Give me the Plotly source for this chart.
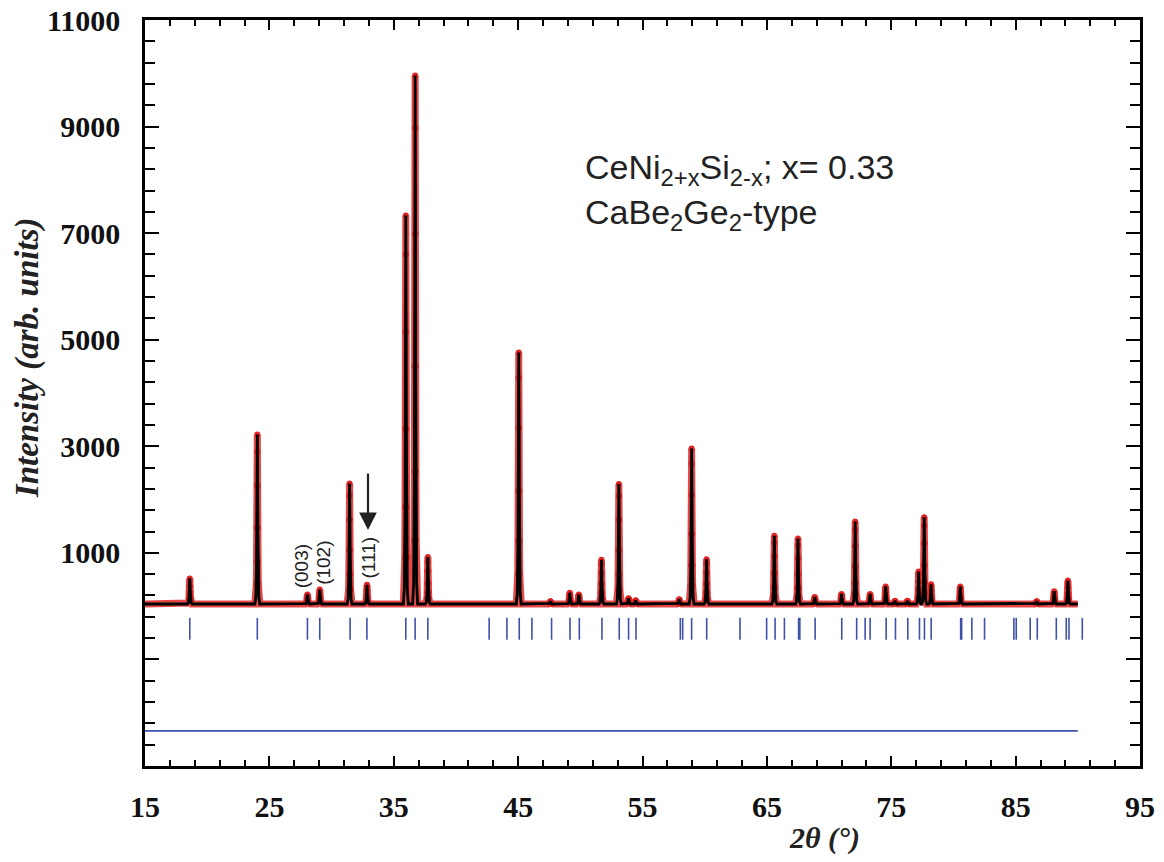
import plotly.graph_objects as go

# ---------------- data ----------------
background = 40
peak_2theta = [18.60, 24.03, 28.06, 29.05, 31.45, 32.85, 35.97, 36.72, 37.74,
               45.05, 47.60, 49.15, 49.88, 51.70, 53.10, 53.88, 54.45,
               57.95, 58.95, 60.15, 65.60, 67.50, 68.85, 71.00, 72.10,
               73.30, 74.55, 75.30, 76.30, 77.20, 77.65, 78.20, 80.55,
               86.70, 88.10, 89.20]
peak_intensity = [520, 3220, 220, 310, 2300, 400, 7330, 9960, 920,
                  4760, 90, 250, 220, 870, 2290, 150, 110,
                  130, 2960, 880, 1320, 1270, 170, 230, 1590,
                  230, 370, 100, 100, 650, 1670, 410, 370,
                  90, 280, 480]
scan_range = [15.0, 90.0]

bragg_2theta = [18.60, 24.03, 28.06, 29.05, 31.49, 32.84, 35.97, 36.72, 37.74,
                42.67, 44.10, 45.09, 46.11, 47.69, 49.17, 49.92, 51.74, 53.13,
                53.88, 54.48, 58.04, 58.23, 58.95, 60.16, 62.84, 64.98, 65.66,
                66.41, 67.55, 67.65, 68.88, 71.02, 72.22, 72.90, 73.30, 74.59,
                75.34, 76.33, 77.27, 77.67, 78.21, 80.58, 80.66, 81.48, 82.50,
                84.86, 85.05, 86.17, 86.74, 88.27, 89.07, 89.29, 90.36]
bragg_top = -220
bragg_bottom = -630

diff_level = -2340

x_ticks = [15, 25, 35, 45, 55, 65, 75, 85, 95]
y_ticks = [-3000, -1000, 1000, 3000, 5000, 7000, 9000, 11000]
y_ticklabels = ["", "", "1000", "3000", "5000", "7000", "9000", "11000"]

hkl_labels = ["(003)", "(102)", "(111)"]
hkl_x = [27.65, 29.34, 32.93]
hkl_y = [754, 819, 913]

# peak profile shape (drawing style of each reflection)
profile_offsets = [-0.2, -0.12, -0.08, -0.06, -0.045, -0.03, -0.015, 0.0,
                   0.015, 0.03, 0.045, 0.06, 0.08, 0.12, 0.2]
profile_fraction = [0, 0.04, 0.12, 0.25, 0.45, 0.7, 0.9, 1.0,
                    0.9, 0.7, 0.45, 0.25, 0.12, 0.04, 0]

# ---------------- build polylines ----------------
xs = [scan_range[0]]
ys = [background]
mx, my = [], []
for p, h in sorted(zip(peak_2theta, peak_intensity)):
    for o, f in zip(profile_offsets, profile_fraction):
        xv = p + o
        yv = background + f * (h - background)
        xs.append(xv)
        ys.append(yv)
        if f > 0.1:
            mx.append(xv)
            my.append(yv)
xs.append(scan_range[1])
ys.append(background)

bx, by = [], []
for b in bragg_2theta:
    bx += [b, b, None]
    by += [bragg_top, bragg_bottom, None]

fig = go.Figure()
# observed (red)
fig.add_trace(go.Scatter(x=xs, y=ys, mode="lines",
                         line=dict(color="rgba(225,40,40,0.85)", width=7),
                         hoverinfo="skip", showlegend=False))
fig.add_trace(go.Scatter(x=mx, y=my, mode="markers",
                         marker=dict(color="rgb(225,35,35)", size=6),
                         hoverinfo="skip", showlegend=False))
# calculated (black)
fig.add_trace(go.Scatter(x=xs, y=ys, mode="lines",
                         line=dict(color="black", width=2.8),
                         hoverinfo="skip", showlegend=False))
# Bragg positions
fig.add_trace(go.Scatter(x=bx, y=by, mode="lines",
                         line=dict(color="#3f51a8", width=1.6),
                         hoverinfo="skip", showlegend=False))
# difference curve
fig.add_trace(go.Scatter(x=scan_range, y=[diff_level, diff_level], mode="lines",
                         line=dict(color="#3f55b0", width=1.6),
                         hoverinfo="skip", showlegend=False))

tickfont = dict(family="Liberation Serif", size=30, color="#111", weight="bold")

fig.update_xaxes(range=[15, 95], tickmode="array", tickvals=x_ticks, automargin=False,
                 ticks="inside", ticklen=10, tickwidth=2.2, tickcolor="black",
                 showline=True, linewidth=2.5, linecolor="black", mirror="allticks",
                 showgrid=False, zeroline=False, tickfont=tickfont,
                 ticklabelstandoff=12, ticklabeloverflow="allow",
                 minor=dict(tickmode="linear", tick0=15, dtick=2, ticks="inside",
                            ticklen=6, tickwidth=1.5, tickcolor="black", showgrid=False))
fig.update_yaxes(range=[-3000, 11000], tickmode="array", tickvals=y_ticks,
                 ticktext=y_ticklabels, automargin=False,
                 ticks="inside", ticklen=14, tickwidth=2.2, tickcolor="black",
                 showline=True, linewidth=2.5, linecolor="black", mirror="allticks",
                 showgrid=False, zeroline=False, tickfont=tickfont,
                 ticklabelstandoff=16, ticklabeloverflow="allow",
                 minor=dict(tickmode="linear", tick0=-3000, dtick=400, ticks="inside",
                            ticklen=10, tickwidth=1.5, tickcolor="black", showgrid=False))

annotations = [
    dict(text="Intensity (arb. units)", xref="paper", yref="paper",
         x=-0.1186, y=0.548, xanchor="center", yanchor="middle",
         textangle=-90, showarrow=False,
         font=dict(family="Liberation Serif", size=33, color="#222", weight="bold",
                   style="italic")),
    dict(text="2θ (°)", xref="paper", yref="paper", x=0.683, y=-0.097,
         xanchor="center", yanchor="middle", showarrow=False,
         font=dict(family="Liberation Serif", size=30, color="#222", weight="bold",
                   style="italic")),
    dict(text="CeNi<sub>2+x</sub>Si<sub>2-x</sub>; x= 0.33", xref="paper", yref="paper",
         x=0.440, y=0.799, xanchor="left", yanchor="middle", showarrow=False,
         font=dict(family="Liberation Sans", size=34, color="#222")),
    dict(text="CaBe<sub>2</sub>Ge<sub>2</sub>-type", xref="paper", yref="paper",
         x=0.440, y=0.739, xanchor="left", yanchor="middle", showarrow=False,
         font=dict(family="Liberation Sans", size=34, color="#222")),
]
for t, xv, yv in zip(hkl_labels, hkl_x, hkl_y):
    annotations.append(dict(text=t, x=xv, y=yv, xref="x", yref="y", textangle=-90,
                            showarrow=False, xanchor="center", yanchor="middle",
                            font=dict(family="Liberation Sans", size=19, color="#222")))
annotations.append(dict(x=32.93, y=1429, ax=32.93, ay=2517, xref="x", yref="y",
                        axref="x", ayref="y", text="", showarrow=True,
                        arrowhead=2, arrowsize=1.6, arrowwidth=2.2, arrowcolor="#222"))

# page body has an 8px default margin, so the figure is 16px smaller than the window
fig.update_layout(width=1148, height=846, plot_bgcolor="white", paper_bgcolor="white",
                  margin=dict(l=137, r=16, t=12, b=88), annotations=annotations,
                  showlegend=False)

fig.write_html("out.html")
